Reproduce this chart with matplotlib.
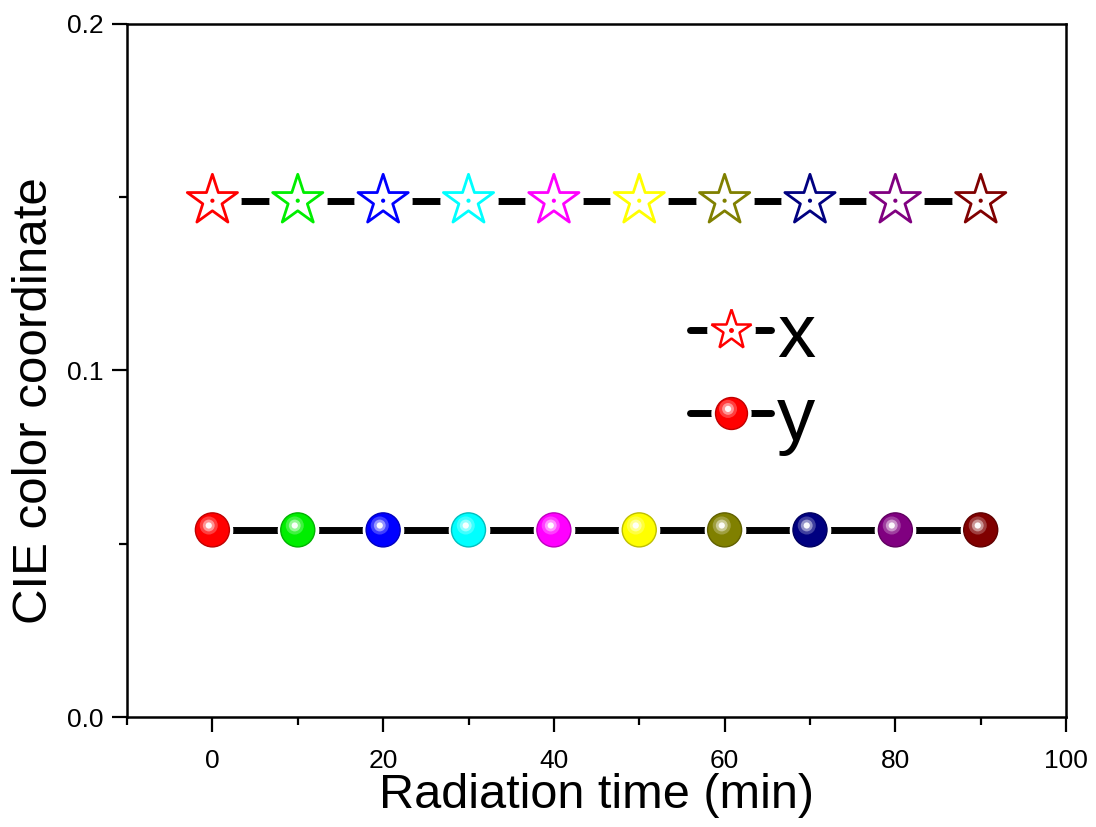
import matplotlib
matplotlib.use('Agg')
import matplotlib.pyplot as plt
from matplotlib.lines import Line2D
from matplotlib.legend_handler import HandlerTuple
from matplotlib.markers import MarkerStyle
from matplotlib.transforms import Affine2D
from matplotlib.ticker import MultipleLocator, FormatStrFormatter

plt.rcParams['font.family'] = ['Liberation Sans', 'DejaVu Sans']

# data
times = [0, 10, 20, 30, 40, 50, 60, 70, 80, 90]
cie_x = [0.149, 0.149, 0.149, 0.149, 0.149, 0.149, 0.149, 0.149, 0.149, 0.149]
cie_y = [0.054, 0.054, 0.054, 0.054, 0.054, 0.054, 0.054, 0.054, 0.054, 0.054]
point_colors = ['#ff0000', '#00ee00', '#0000ff', '#00ffff', '#ff00ff',
                '#ffff00', '#808000', '#000080', '#800080', '#800000']

STAR_MS = 38
STAR_MASK = 42
BALL_MS = 24.5
BALL_MASK = 30
LINE_W = 5


def shifted_dot(size, dx, dy):
    # circle marker whose centre is moved by (dx, dy) points
    return MarkerStyle('o', transform=Affine2D().translate(dx / size, dy / size))


def darker(c, f=0.75):
    r, g, b = matplotlib.colors.to_rgb(c)
    return (r * f, g * f, b * f)


glow = [(13, 0.25), (8.5, 0.45), (4.5, 0.95)]

fig = plt.figure(figsize=(10.96, 8.27), dpi=100)
ax = fig.add_axes([0.1159, 0.133, 0.8568, 0.838])

# x series: hollow stars
ax.plot(times, cie_x, color='black', lw=LINE_W, solid_capstyle='round', zorder=2)
ax.scatter(times, cie_x, s=STAR_MASK ** 2, marker='o', color='white', linewidths=0, zorder=3)
ax.scatter(times, cie_x, s=STAR_MS ** 2, marker='*', facecolors='none',
           edgecolors=point_colors, linewidths=2, zorder=4)
ax.scatter(times, cie_x, s=3 ** 2, c=point_colors, linewidths=0, zorder=5)

# y series: shaded balls
ax.plot(times, cie_y, color='black', lw=LINE_W, solid_capstyle='round', zorder=2)
ax.scatter(times, cie_y, s=BALL_MASK ** 2, marker='o', color='white', linewidths=0, zorder=3)
ax.scatter(times, cie_y, s=BALL_MS ** 2, c=point_colors,
           edgecolors=[darker(c) for c in point_colors], linewidths=1, zorder=4)
for sz, al in glow:
    ax.scatter(times, cie_y, s=sz ** 2, marker=shifted_dot(sz, -2.7, 3.6),
               color='white', alpha=al, linewidths=0, zorder=5)

ax.set_xlim(-10, 100)
ax.set_ylim(0, 0.2)
ax.set_xticks([0, 20, 40, 60, 80, 100])
ax.xaxis.set_minor_locator(MultipleLocator(10))
ax.set_yticks([0.0, 0.1, 0.2])
ax.yaxis.set_minor_locator(MultipleLocator(0.05))
ax.yaxis.set_major_formatter(FormatStrFormatter('%.1f'))

for sp in ax.spines.values():
    sp.set_linewidth(1.8)
ax.tick_params(which='both', direction='out', top=False, right=False, width=1.6)
ax.tick_params(which='major', length=11, labelsize=19)
ax.tick_params(axis='x', which='major', pad=12)
ax.tick_params(axis='y', which='major', pad=6)
ax.tick_params(which='minor', length=6)

ax.set_xlabel('Radiation time (min)', fontsize=35, labelpad=0)
ax.set_ylabel('CIE color coordinate', fontsize=35.5)
ax.yaxis.set_label_coords(-0.0745, 0.457)

# legend
line_h = Line2D([], [], color='black', lw=LINE_W, solid_capstyle='round')
hx = (line_h,
      Line2D([], [], marker='o', ms=35, mfc='white', mec='none', ls='none'),
      Line2D([], [], marker='*', ms=30, mfc='none', mec='red', mew=1.8, ls='none'),
      Line2D([], [], marker='o', ms=2.5, color='red', ls='none'))
hy = [line_h,
      Line2D([], [], marker='o', ms=29, mfc='white', mec='none', ls='none'),
      Line2D([], [], marker='o', ms=23, mfc='red', mec=darker('red'), mew=1, ls='none')]
for sz, al in glow:
    hy.append(Line2D([], [], marker=shifted_dot(sz, -2.5, 3.3), ms=sz, mfc='white',
                     mec='none', alpha=al, ls='none'))
hy = tuple(hy)

ax.legend([hx, hy], ['x', 'y'], handler_map={tuple: HandlerTuple(ndivide=1, pad=0)},
          frameon=False, fontsize=55, handlelength=1.05, handletextpad=0.08,
          labelspacing=0.15, loc='upper left', bbox_to_anchor=(0.6, 0.5985),
          borderaxespad=0, borderpad=0)

fig.savefig('out.png', dpi=100)
